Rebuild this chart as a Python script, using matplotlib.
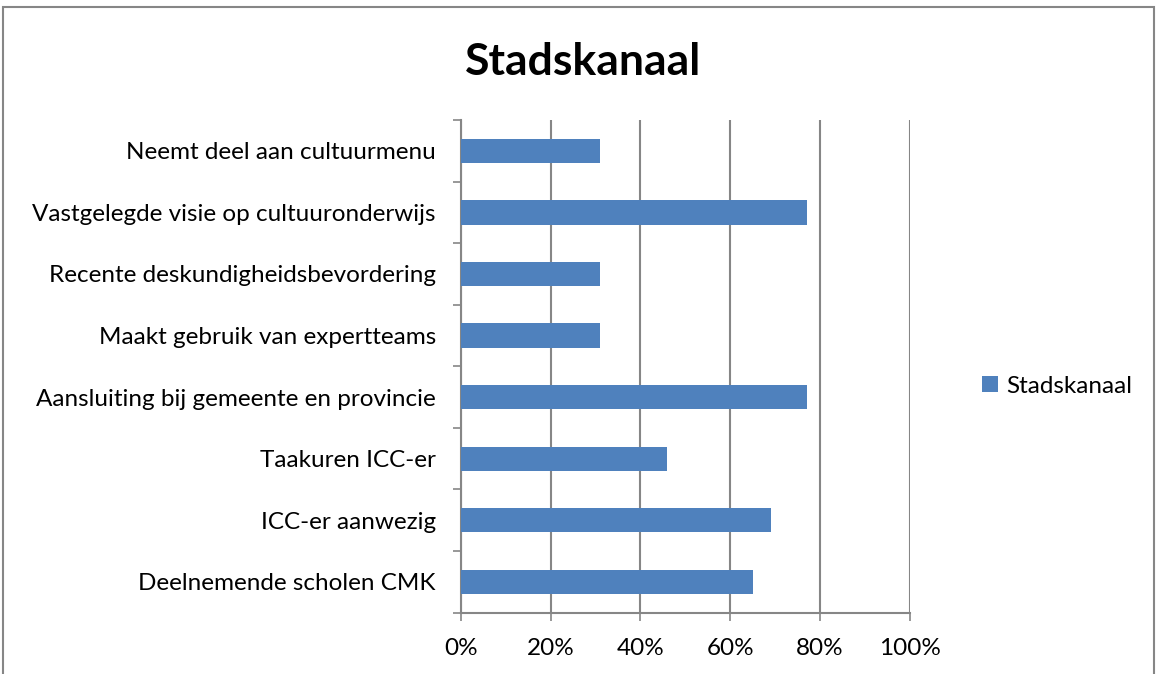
import matplotlib
matplotlib.use("Agg")
import matplotlib.pyplot as plt
from matplotlib.patches import Rectangle
from matplotlib.ticker import FixedLocator, PercentFormatter

categories = [
    "Neemt deel aan cultuurmenu",
    "Vastgelegde visie op cultuuronderwijs",
    "Recente deskundigheidsbevordering",
    "Maakt gebruik van expertteams",
    "Aansluiting bij gemeente en provincie",
    "Taakuren ICC-er",
    "ICC-er aanwezig",
    "Deelnemende scholen CMK",
]
values = [31, 77, 31, 31, 77, 46, 69, 65]
series_name = "Stadskanaal"
title = "Stadskanaal"
x_ticks = [0, 20, 40, 60, 80, 100]

plt.rcParams['font.family'] = ['Lato', 'DejaVu Sans']

fig = plt.figure(figsize=(11.6, 6.74), dpi=100)
ax = fig.add_axes([0.3972, 0.091, 0.3873, 0.731])

n = len(categories)
ypos = [n - 1 - i for i in range(n)]
ax.barh(ypos, values, height=0.395, color="#4F81BD", label=series_name, zorder=3)

ax.set_xlim(0, 100)
ax.set_ylim(-0.5, n - 0.5)
ax.xaxis.set_major_locator(FixedLocator(x_ticks))
ax.xaxis.set_major_formatter(PercentFormatter(decimals=0))
ax.set_yticks(ypos)
ax.set_yticklabels(categories)
ax.yaxis.set_minor_locator(FixedLocator([i - 0.5 for i in range(n + 1)]))
ax.tick_params(axis='y', which='major', length=0, pad=18, labelsize=17.5)
ax.tick_params(axis='y', which='minor', length=6, width=1.2, color="#868686")
ax.tick_params(axis='x', length=6, width=1.2, color="#868686", labelsize=17.5, pad=12)

ax.grid(axis='x', color="#868686", linewidth=1.5, zorder=0)
for s in ['top', 'right']:
    ax.spines[s].set_visible(False)
for s in ['left', 'bottom']:
    ax.spines[s].set_color("#868686")
    ax.spines[s].set_linewidth(1.5)

fig.text(0.503, 0.908, title, ha='center', va='center', fontsize=32, fontweight='bold')

ax.legend(loc='center left', bbox_to_anchor=(1.112, 0.46), frameon=False,
          fontsize=17.5, handlelength=0.65, handleheight=0.65, handletextpad=0.35)

fig.patches.append(Rectangle((0.003, -0.01), 0.992, 0.9996,
                             transform=fig.transFigure, fill=False,
                             edgecolor="#868686", linewidth=1.5))

fig.savefig("out.png", dpi=100, facecolor="white")
